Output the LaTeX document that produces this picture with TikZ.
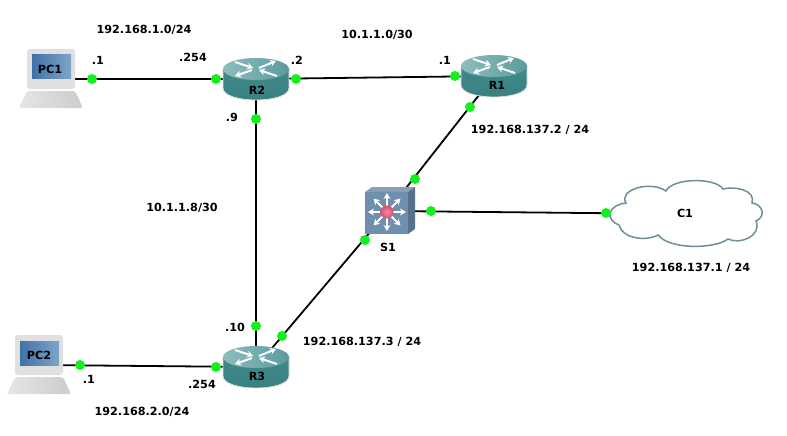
\documentclass[tikz,border=0pt]{standalone}
\usepackage{fontspec}
\setmainfont{DejaVu Sans}
\usetikzlibrary{arrows.meta}
\definecolor{routerteal}{HTML}{3F8A8C}
\definecolor{routertop}{HTML}{8DBDBE}
\definecolor{switchblue}{HTML}{6F8FAE}
\definecolor{switchdark}{HTML}{8A9FB5}
\definecolor{cloudline}{HTML}{6F8F98}
\definecolor{portgreen}{HTML}{12F01E}
\definecolor{screenblue}{HTML}{3F72A8}
\definecolor{screenlight}{HTML}{7FA4C8}
\definecolor{hubred}{HTML}{E0486C}
\tikzset{
  link/.style={line width=1.8pt,black},
  portdot/.style={circle,fill=portgreen,draw=none,inner sep=0pt,minimum size=10pt},
  iplabel/.style={font=\bfseries\fontsize{11.2}{13}\selectfont,inner sep=0pt},
  devlabel/.style={font=\bfseries\fontsize{11.2}{13}\selectfont,inner sep=0pt},
  whitearrow/.style={white,line width=2pt,-{Stealth[length=6pt,width=7pt]}},
  routericon/.pic={
    \shade[draw=black!12,line width=0.8pt,top color=routerteal,bottom color=routerteal!92!black]
      (-33,-10) -- (-33,9) .. controls (-33,25) and (33,25) .. (33,9) -- (33,-10) -- cycle;
    \shade[left color=routertop,right color=routerteal!85!white] (0,-10) ellipse [x radius=33pt,y radius=11pt];
    \draw[whitearrow] (-21,-17) -- (-3,-11);
    \draw[whitearrow] (3,-11) -- (20,-18);
    \draw[whitearrow] (-4,-9) -- (-21,-3);
    \draw[whitearrow] (21,-3) -- (3,-9);
  },
  laptopicon/.pic={
    \fill[black!12,rounded corners=3pt] (-24,-30) rectangle (24,10);
    \shade[left color=black!10,right color=black!20,rounded corners=2pt] (-32,29) -- (-24,12) -- (24,12) -- (32,29) -- cycle;
    \shade[left color=screenblue,right color=screenlight]
      (-19,-24) rectangle (20,0);
  },
  switchicon/.pic={
    \fill[switchdark] (-23,-19) -- (-16,-24) -- (27,-24) -- (20,-19) -- cycle;
    \fill[switchblue!80!black] (20,-19) -- (27,-24) -- (27,18) -- (20,23) -- cycle;
    \fill[switchblue] (-23,-19) rectangle (20,23);
    \foreach \ang in {0,45,...,315}
      \draw[whitearrow] (-1,1) -- ++(\ang:19);
    \shade[inner color=hubred!60!white,outer color=hubred] (-1,1) circle [radius=6.5pt];
  }
}
\begin{document}
\begin{tikzpicture}[x=1pt,y=-1pt]
\useasboundingbox (0,0) rectangle (787,436);
\coordinate (PC1) at (51,79);
\coordinate (PC2) at (39,365);
\coordinate (R1) at (494,76);
\coordinate (R2) at (256,79);
\coordinate (R3) at (256,367);
\coordinate (S1) at (388,211);
\coordinate (C1) at (685,214);

\draw[link] (PC1) -- (R2);
\draw[link] (R2) -- (R1);
\draw[link] (R2) -- (R3);
\draw[link] (R1) -- (S1);
\draw[link] (S1) -- (R3);
\draw[link] (S1) -- (C1);
\draw[link] (PC2) -- (R3);

\pic at (R1) {routericon};
\pic at (R2) {routericon};
\pic at (R3) {routericon};
\pic at (PC1) {laptopicon};
\pic at (PC2) {laptopicon};
\pic at (S1) {switchicon};

\draw[cloudline,line width=1.5pt,fill=white] (610,213)
  .. controls (612,207) and (618,204) .. (626,203)
  .. controls (618,190) and (650,180) .. (666,191)
  .. controls (672,178) and (715,177) .. (723,189)
  .. controls (735,186) and (756,190) .. (752,203)
  .. controls (762,204) and (767,216) .. (756,221)
  .. controls (762,236) and (740,245) .. (728,239)
  .. controls (715,249) and (670,250) .. (658,235)
  .. controls (645,242) and (622,238) .. (619,225)
  .. controls (613,223) and (609,218) .. (610,213) -- cycle;

\node[portdot] (p1) at (92,79) {};
\node[portdot] (p2) at (216,79) {};
\node[portdot] (p3) at (296,79) {};
\node[portdot] (p4) at (455,76) {};
\node[portdot] (p5) at (256,119) {};
\node[portdot] (p6) at (256,326) {};
\node[portdot] (p7) at (470,107) {};
\node[portdot] (p8) at (415,179) {};
\node[portdot] (p9) at (365,240) {};
\node[portdot] (p10) at (282,336) {};
\node[portdot] (p11) at (431,211) {};
\node[portdot] (p12) at (606,213) {};
\node[portdot] (p13) at (80,365) {};
\node[portdot] (p14) at (216,367) {};

\node[devlabel] (PC1txt) at (50,69) {PC1};
\node[devlabel] (PC2txt) at (39,355) {PC2};
\node[devlabel] (R1txt) at (497,85) {R1};
\node[devlabel] (R2txt) at (257,90) {R2};
\node[devlabel] (R3txt) at (257,376) {R3};
\node[devlabel] (S1txt) at (388,247) {S1};
\node[devlabel] (C1txt) at (685,213) {C1};

\node[iplabel] (net1) at (144,30) {192.168.1.0/24};
\node[iplabel] (ip1) at (98,60) {.1};
\node[iplabel] (ip2) at (193,57) {.254};
\node[iplabel] (ip3) at (297,60) {.2};
\node[iplabel] (net2) at (377,35) {10.1.1.0/30};
\node[iplabel] (ip4) at (445,60) {.1};
\node[iplabel] (ip5) at (232,117) {.9};
\node[iplabel] (net3) at (182,208) {10.1.1.8/30};
\node[iplabel] (ip6) at (530,130) {192.168.137.2 / 24};
\node[iplabel] (ip7) at (691,268) {192.168.137.1 / 24};
\node[iplabel] (ip8) at (362,342) {192.168.137.3 / 24};
\node[iplabel] (ip9) at (235,327) {.10};
\node[iplabel] (ip10) at (89,379) {.1};
\node[iplabel] (ip11) at (202,384) {.254};
\node[iplabel] (net4) at (142,412) {192.168.2.0/24};
\end{tikzpicture}
\end{document}
